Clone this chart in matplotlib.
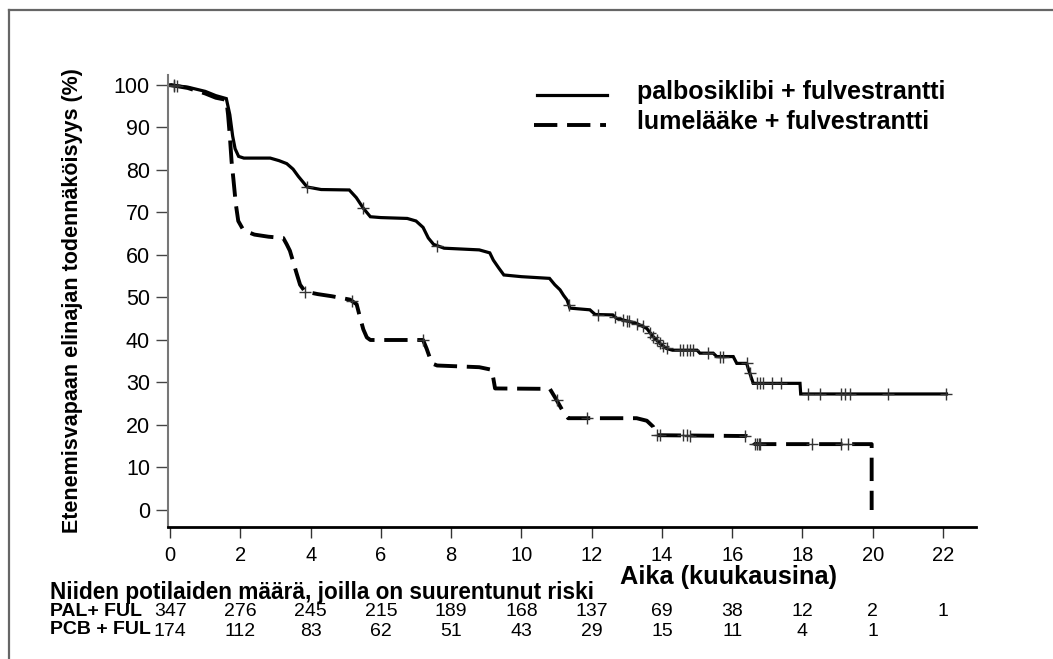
import numpy as np
import matplotlib
matplotlib.use("Agg")
import matplotlib.pyplot as plt
import matplotlib.transforms as mtransforms
from matplotlib.lines import Line2D

# Kaplan-Meier curve shapes (months, %)
pal_t = [0, 0.5, 1.0, 1.3, 1.6, 1.7, 1.78, 1.85, 1.95, 2.1, 2.85, 3.1, 3.32, 3.5, 3.65, 3.9,
         4.3, 5.1, 5.3, 5.5, 5.7, 6.0, 6.75, 7.0, 7.2, 7.35, 7.5, 7.8, 8.8, 9.1, 9.2, 9.35,
         9.5, 10.0, 10.8, 10.95, 11.1, 11.2, 11.3, 11.38, 11.95, 12.1, 12.6, 12.71, 13.28,
         13.45, 13.57, 13.75, 13.94, 14.13, 14.3, 15.0, 15.08, 15.46, 15.56, 16.03, 16.13,
         16.41, 16.5, 16.6, 17.93, 17.95, 22.1]
pal_s = [100, 99.5, 98.5, 97.5, 96.8, 93, 88, 85, 83.2, 82.8, 82.8, 82.2, 81.5, 80.2, 78.5, 76,
         75.4, 75.3, 73.5, 71, 69, 68.8, 68.6, 68, 66.5, 64, 62.5, 61.6, 61.2, 60.5, 58.8, 57,
         55.3, 54.9, 54.5, 53, 51.8, 50.5, 49.4, 47.5, 47.1, 46, 45.9, 45.1, 43.9,
         43.2, 42.7, 40.8, 39.2, 38.0, 37.6, 37.6, 36.9, 36.9, 36.1, 36.1, 34.5,
         34.5, 32.2, 29.8, 29.8, 27.3, 27.3]
pal_cens = [0.1, 0.2, 3.9, 5.5, 7.6, 11.35, 12.18, 12.66, 12.9, 13.0, 13.05, 13.3, 13.45,
            13.66, 13.75, 13.85, 13.94, 14.03, 14.13, 14.51, 14.61, 14.7, 14.8, 14.89, 15.32,
            15.65, 15.75, 16.41, 16.5, 16.7, 16.79, 16.88, 17.12, 17.4, 18.17, 18.5, 19.11,
            19.2, 19.34, 20.44, 22.1]

pcb_t = [0, 0.5, 1.0, 1.3, 1.6, 1.65, 1.7, 1.75, 1.8, 1.87, 1.94, 2.09, 2.4, 2.8, 3.22, 3.32,
         3.41, 3.5, 3.6, 3.7, 3.84, 4.2, 4.6, 5.12, 5.31, 5.4, 5.5, 5.6, 5.7, 7.2, 7.3, 7.45,
         7.6, 8.8, 9.15, 9.2, 9.25, 10.81, 11.0, 11.19, 11.33, 13.28, 13.57, 13.75, 13.85,
         16.41, 16.55, 16.65, 19.97, 19.97]
pcb_s = [100, 99.3, 98, 97, 96.5, 93, 88, 82, 78, 72, 68, 65.8, 64.8, 64.3, 64.0, 62.5,
         61, 58.5, 55.7, 53, 51.4, 50.8, 50.3, 49.5, 48.4, 45.5, 42.5, 40.6, 40, 40, 38, 34.5,
         34, 33.6, 33, 31, 28.6, 28.5, 25.9, 23.1, 21.6, 21.6, 21.0, 19.6, 17.6,
         17.4, 16.9, 15.5, 15.5, 0]
pcb_cens = [0.1, 3.85, 5.17, 7.2, 11.0, 11.86, 13.85, 13.94, 14.61, 14.7, 14.8, 16.36,
            16.65, 16.7, 16.75, 16.8, 18.26, 19.11, 19.3]

xticks = np.arange(0, 23, 2)
yticks = np.arange(0, 101, 10)
risk_pal = [347, 276, 245, 215, 189, 168, 137, 69, 38, 12, 2, 1]
risk_pcb = [174, 112, 83, 62, 51, 43, 29, 15, 11, 4, 1]

W, H = 1053, 659
narrow = ['Liberation Sans Narrow', 'Liberation Sans', 'DejaVu Sans']
arial = ['Liberation Sans', 'DejaVu Sans']

fig = plt.figure(figsize=(W / 100, H / 100), dpi=100)
ax = fig.add_axes([168 / W, 1 - 527 / H, (976 - 168) / W, (527 - 75) / H])

ax.plot(pal_t, pal_s, color='black', lw=2.3, solid_joinstyle='miter')
ax.plot(pcb_t, pcb_s, color='black', lw=2.8, dashes=(6, 2.5))
ax.plot(pal_cens, np.interp(pal_cens, pal_t, pal_s), '+', color='#333333', ms=9, mew=1)
ax.plot(pcb_cens, np.interp(pcb_cens, pcb_t[:-1], pcb_s[:-1]), '+', color='#333333', ms=9, mew=1)

ax.set_xlim(-0.06, 22.94)
ax.set_ylim(-4.0, 102.35)
ax.set_xticks(xticks)
ax.set_yticks(yticks)
ax.set_xticklabels([str(v) for v in xticks], family=narrow, fontsize=14.5)
ax.set_yticklabels([str(v) for v in yticks], family=arial, fontsize=15.5)
ax.tick_params(axis='x', length=8, width=1, direction='out', pad=6, colors='#333333')
ax.tick_params(axis='y', length=9, width=1, direction='out', pad=4, colors='#444444')
for lab in ax.get_xticklabels() + ax.get_yticklabels():
    lab.set_color('black')
ax.spines['top'].set_visible(False)
ax.spines['right'].set_visible(False)
ax.spines['left'].set_color('#777777')
ax.spines['left'].set_linewidth(1.5)
ax.spines['bottom'].set_color('black')
ax.spines['bottom'].set_linewidth(2)

ax.set_ylabel('Etenemisvapaan elinajan todennäköisyys (%)', family=arial,
              fontsize=15.5, fontweight='bold')
ax.yaxis.set_label_coords((83 - 168) / (976 - 168), 0.5)

# legend drawn by hand
fig.add_artist(Line2D([537 / W, 607 / W], [1 - 95 / H] * 2, color='black', lw=2.3))
fig.add_artist(Line2D([534 / W, 606 / W], [1 - 125 / H] * 2, color='black', lw=2.8,
                      dashes=(6, 2.5)))
fig.text(637 / W, 1 - 92 / H, 'palbosiklibi + fulvestrantti', family=arial, fontsize=18,
         fontweight='bold', va='center')
fig.text(637 / W, 1 - 122 / H, 'lumelääke + fulvestrantti', family=arial, fontsize=18,
         fontweight='bold', va='center')

fig.text(729 / W, 1 - 577 / H, 'Aika (kuukausina)', family=narrow, fontsize=18.3,
         fontweight='bold', ha='center', va='center')
fig.text(50 / W, 1 - 592 / H, 'Niiden potilaiden määrä, joilla on suurentunut riski',
         family=narrow, fontsize=16.3, fontweight='bold', va='center')
fig.text(50 / W, 1 - 611 / H, 'PAL+ FUL', family=narrow, fontsize=14,
         fontweight='bold', va='center')
fig.text(50 / W, 1 - 630 / H, 'PCB + FUL', family=narrow, fontsize=14,
         fontweight='bold', va='center')

trans = mtransforms.blended_transform_factory(ax.transData, fig.transFigure)
for x, n in zip(xticks, risk_pal):
    ax.text(x, 1 - 612 / H, str(n), transform=trans, family=narrow, fontsize=14,
            ha='center', va='center')
for x, n in zip(xticks, risk_pcb):
    ax.text(x, 1 - 632 / H, str(n), transform=trans, family=narrow, fontsize=14,
            ha='center', va='center')

# grey page frame, cut at right and bottom
fig.add_artist(Line2D([8.5 / W, 1.0], [1 - 9.5 / H] * 2, color='#666666', lw=1.6))
fig.add_artist(Line2D([8.5 / W] * 2, [0, 1 - 9.5 / H], color='#666666', lw=1.6))

fig.savefig('out.png', dpi=100)
